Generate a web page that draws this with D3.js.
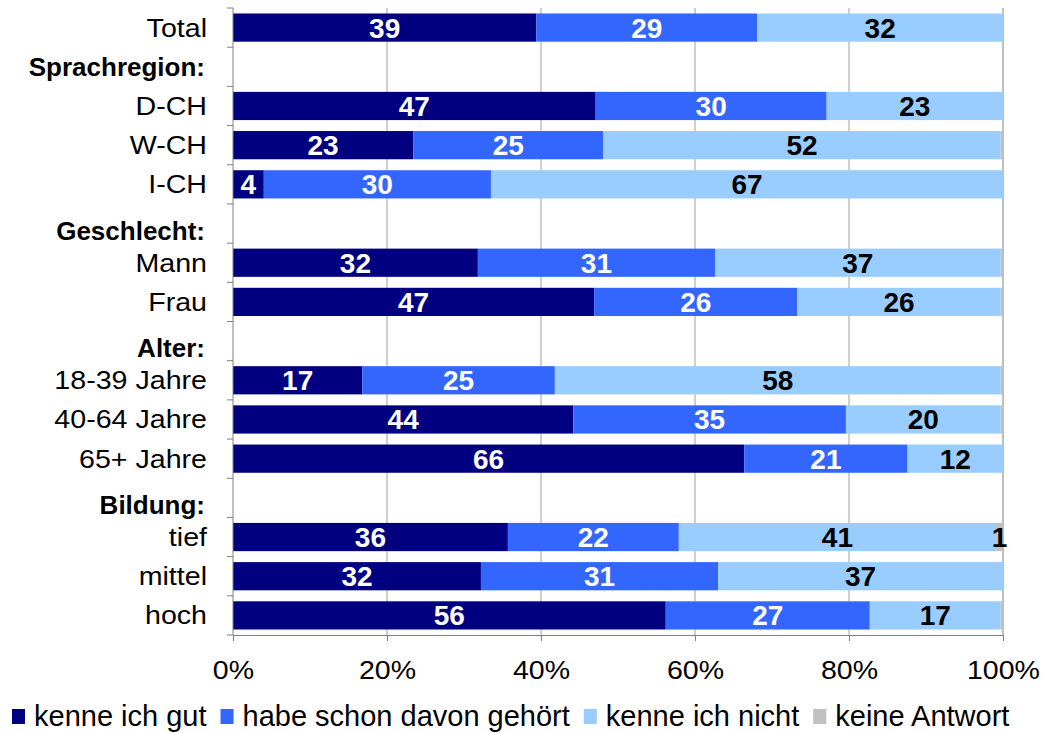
<!DOCTYPE html>
<html>
<head>
<meta charset="utf-8">
<script src="https://cdn.jsdelivr.net/npm/d3@7"></script>
<style>
  body { margin: 0; background: #fff; }
  text { font-family: "Liberation Sans", Arial, sans-serif; }
</style>
</head>
<body>
<div id="chart"></div>
<script>
// rows of the chart, header rows have no bar
var categories = ["Total", "Sprachregion:", "D-CH", "W-CH", "I-CH",
  "Geschlecht:", "Mann", "Frau", "Alter:", "18-39 Jahre", "40-64 Jahre", "65+ Jahre",
  "Bildung:", "tief", "mittel", "hoch"];
var headers = ["Sprachregion:", "Geschlecht:", "Alter:", "Bildung:"];

var seriesNames = ["kenne ich gut", "habe schon davon gehört", "kenne ich nicht", "keine Antwort"];
var seriesColors = ["#000080", "#3366FF", "#99CCFF", "#C0C0C0"];
var labelColors = ["#fff", "#fff", "#000", "#000"];

// percent values per row (null = header)
var kenneGut    = [39.4, null, 47.1, 23.4, 4.0, null, 31.8, 46.9, null, 16.8, 44.2, 66.4, null, 35.7, 32.2, 56.2];
var schonGehoert = [28.7, null, 30.0, 24.7, 29.5, null, 30.8, 26.4, null, 25.0, 35.4, 21.2, null, 22.2, 30.8, 26.5];
var kenneNicht  = [31.9, null, 22.9, 51.6, 66.5, null, 37.1, 26.4, null, 57.9, 20.1, 12.4, null, 41.2, 37.0, 17.0];
var keineAntwort = [0, null, 0, 0.3, 0, null, 0.3, 0.3, null, 0.3, 0.3, 0, null, 0.9, 0, 0.3];

var xTicks = [0, 20, 40, 60, 80, 100];

var svgWidth = 1042;
var svgHeight = 733;

var svg = d3.select("#chart")
  .append("svg")
  .attr("width", svgWidth)
  .attr("height", svgHeight);

var xScale = d3.scaleLinear()
  .domain([0, 100])
  .range([233, 1003]);

var yScale = d3.scaleBand()
  .domain(categories)
  .range([8, 635])
  .paddingInner(0.28)
  .paddingOuter(0.14);

// gridlines
svg.append("g")
  .selectAll("line")
  .data(xTicks.slice(1))
  .enter()
  .append("line")
  .attr("x1", d => xScale(d))
  .attr("x2", d => xScale(d))
  .attr("y1", 8)
  .attr("y2", 635)
  .attr("stroke", d => d == 100 ? "#808080" : "#a0a0a0")
  .attr("stroke-width", 1);

// stack the series
var rows = categories.map(function(c, i) {
  return { cat: c, vals: [kenneGut[i], schonGehoert[i], kenneNicht[i], keineAntwort[i]] };
}).filter(d => d.vals[0] !== null);

var segments = [];
rows.forEach(function(r) {
  var x0 = 0;
  r.vals.forEach(function(v, k) {
    segments.push({ cat: r.cat, k: k, x0: x0, x1: x0 + v, v: v });
    x0 += v;
  });
});

var barGroup = svg.append("g");
barGroup.selectAll("rect")
  .data(segments.filter(d => d.v > 0))
  .enter()
  .append("rect")
  .attr("x", d => xScale(d.x0))
  .attr("y", d => yScale(d.cat))
  .attr("width", d => xScale(d.x1) - xScale(d.x0))
  .attr("height", yScale.bandwidth())
  .attr("fill", d => seriesColors[d.k]);

// value labels
barGroup.selectAll("text")
  .data(segments.filter(d => Math.round(d.v) >= 1))
  .enter()
  .append("text")
  .attr("x", d => xScale((d.x0 + d.x1) / 2))
  .attr("y", d => yScale(d.cat) + yScale.bandwidth() / 2 + 10)
  .attr("text-anchor", "middle")
  .attr("font-size", "28px")
  .attr("font-weight", "bold")
  .attr("fill", d => labelColors[d.k])
  .text(d => Math.round(d.v));

// x axis
var bottomAxis = d3.axisBottom(xScale)
  .tickValues(xTicks)
  .tickSize(6)
  .tickSizeOuter(0)
  .tickFormat(d => d + "%");

var xAxis = svg.append("g")
  .attr("transform", "translate(0, 635)")
  .call(bottomAxis);
xAxis.select(".domain").attr("stroke", "#808080");
xAxis.selectAll(".tick line").attr("stroke", "#808080");
xAxis.selectAll(".tick text")
  .attr("y", 44)
  .attr("dy", 0)
  .attr("transform", "scale(1.12,1)")
  .attr("font-family", "'Liberation Sans', Arial, sans-serif")
  .attr("font-size", "25.5px")
  .attr("fill", "#000");

// y axis: line with ticks at band boundaries
var step = yScale.step();
var bounds = d3.range(categories.length + 1).map(i => 8 + i * step);
svg.append("line")
  .attr("x1", 233).attr("x2", 233)
  .attr("y1", 8).attr("y2", 635)
  .attr("stroke", "#808080");
svg.append("g")
  .selectAll("line")
  .data(bounds)
  .enter()
  .append("line")
  .attr("x1", 227).attr("x2", 233)
  .attr("y1", d => d).attr("y2", d => d)
  .attr("stroke", "#808080");

// category labels (reference text is a bit stretched sideways)
svg.append("g")
  .selectAll("text")
  .data(categories)
  .enter()
  .append("text")
  .attr("transform", function(d) {
    var c = yScale(d) + yScale.bandwidth() / 2;
    var h = headers.indexOf(d);
    if (h > 0) return "translate(205," + (c + 16) + ") scale(1.04,1)";
    if (h == 0) return "translate(205," + (c + 9) + ") scale(1.04,1)";
    return "translate(207," + (c + 9) + ") scale(1.1,1)";
  })
  .attr("text-anchor", "end")
  .attr("font-size", d => headers.indexOf(d) >= 0 ? "25px" : "26px")
  .attr("font-weight", d => headers.indexOf(d) >= 0 ? "bold" : "normal")
  .text(d => d);

// legend
var legend = svg.append("g");
var lx = 12;
seriesNames.forEach(function(name, k) {
  legend.append("rect")
    .attr("x", lx).attr("y", 709)
    .attr("width", 13).attr("height", 15)
    .attr("fill", seriesColors[k]);
  var t = legend.append("text")
    .attr("x", lx + 22)
    .attr("y", 726)
    .attr("font-size", "29px")
    .text(name);
  lx += 22 + t.node().getComputedTextLength() + 14;
});
</script>
</body>
</html>
